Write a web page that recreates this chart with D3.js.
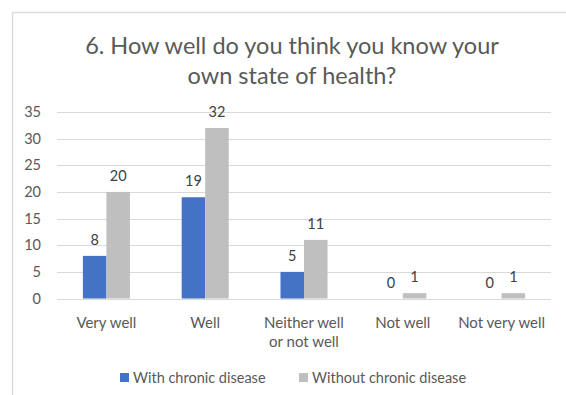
<!DOCTYPE html>
<html>
<head>
<meta charset="utf-8">
<script src="https://cdn.jsdelivr.net/npm/d3@7"></script>
<style>
  html, body { margin: 0; padding: 0; background: #fff; }
  svg { display: block; font-family: Lato, "Open Sans", sans-serif; }
</style>
</head>
<body>
<svg id="chart" width="566" height="395"></svg>
<script>
// Survey answers to question 6
const titleLines = ["6. How well do you think you know your", "own state of health?"];
const categories = ["Very well", "Well", "Neither well\nor not well", "Not well", "Not very well"];
const seriesNames = ["With chronic disease", "Without chronic disease"];
const withChronic = [8, 19, 5, 0, 0];
const withoutChronic = [20, 32, 11, 1, 1];
const yTicks = [0, 5, 10, 15, 20, 25, 30, 35];
const seriesColors = ["#4472C4", "#BFBFBF"];

const svg = d3.select("#chart");
const textColor = "#595959";

// outer frame (top and left edges)
svg.append("line").attr("x1", 12).attr("x2", 566).attr("y1", 12.5).attr("y2", 12.5)
  .attr("stroke", "#DCDCDC").attr("stroke-width", 1.5);
svg.append("line").attr("x1", 12.5).attr("x2", 12.5).attr("y1", 12).attr("y2", 395)
  .attr("stroke", "#DCDCDC").attr("stroke-width", 1.5);

// title
svg.append("g").selectAll("text").data(titleLines).join("text")
  .attr("x", 292).attr("y", (d, i) => 54 + i * 30)
  .attr("text-anchor", "middle").attr("fill", textColor)
  .attr("font-size", 23.5).text(d => d);

const x = d3.scaleBand().domain(categories).range([57, 551]).padding(0);
const xs = d3.scaleBand().domain(seriesNames).range([0, x.bandwidth()]).paddingInner(0).paddingOuter(1.1);
const y = d3.scaleLinear().domain([0, 35]).range([298.5, 112]);

// gridlines
svg.append("g").selectAll("line").data(yTicks).join("line")
  .attr("x1", 57).attr("x2", 551)
  .attr("y1", d => Math.round(y(d)) + 0.5).attr("y2", d => Math.round(y(d)) + 0.5)
  .attr("stroke", "#D9D9D9").attr("stroke-width", 1);

// y axis labels
const yAxis = svg.append("g").attr("transform", "translate(47,0)")
  .call(d3.axisLeft(y).tickValues(yTicks).tickSize(0).tickPadding(6));
yAxis.select(".domain").remove();
yAxis.selectAll("text").attr("fill", textColor).attr("font-size", 14.5)
  .attr("font-family", "Lato, sans-serif");

// bars
const rows = categories.map((c, i) => ({ cat: c, vals: [withChronic[i], withoutChronic[i]] }));
const groups = svg.append("g").selectAll("g").data(rows).join("g")
  .attr("transform", d => `translate(${x(d.cat)},0)`);
groups.selectAll("rect").data(d => d.vals.map((v, j) => ({ v, s: seriesNames[j], j })))
  .join("rect")
  .attr("x", d => xs(d.s)).attr("width", xs.bandwidth())
  .attr("y", d => y(d.v)).attr("height", d => y(0) - y(d.v))
  .attr("fill", d => seriesColors[d.j]);
groups.selectAll("text").data(d => d.vals.map((v, j) => ({ v, s: seriesNames[j], j })))
  .join("text")
  .attr("x", d => xs(d.s) + xs.bandwidth() / 2).attr("y", d => y(d.v) - 11)
  .attr("text-anchor", "middle").attr("fill", "#404040").attr("font-size", 14.5)
  .text(d => d.v);

// category labels
const catG = svg.append("g").selectAll("text").data(categories).join("text")
  .attr("x", d => x(d) + x.bandwidth() / 2).attr("y", 328)
  .attr("text-anchor", "middle").attr("fill", textColor).attr("font-size", 15);
catG.selectAll("tspan").data(d => d.split("\n")).join("tspan")
  .attr("x", function () { return d3.select(this.parentNode).attr("x"); })
  .attr("dy", (d, i) => i === 0 ? 0 : 19).text(d => d);

// legend
const legendPos = [120, 299];
const lg = svg.append("g").selectAll("g").data(seriesNames).join("g")
  .attr("transform", (d, i) => `translate(${legendPos[i]},373)`);
lg.append("rect").attr("width", 9).attr("height", 9).attr("fill", (d, i) => seriesColors[i]);
lg.append("text").attr("x", 13).attr("y", 9.5).attr("fill", textColor).attr("font-size", 14.5)
  .text(d => d);
</script>
</body>
</html>
